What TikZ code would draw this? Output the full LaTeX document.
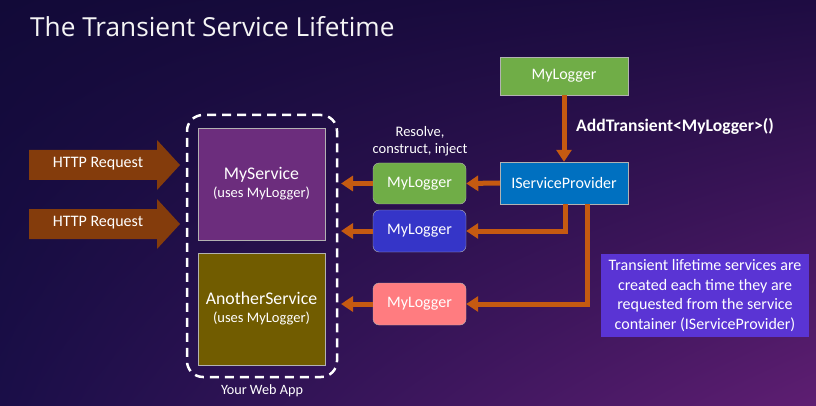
\documentclass[tikz,border=0pt]{standalone}
\usepackage{fontspec}
\setmainfont{Carlito}
\newfontfamily\titlefont{Open Sans}
\usetikzlibrary{arrows.meta,positioning,shadings}
\definecolor{bgA}{HTML}{120A38}
\definecolor{bgB}{HTML}{1E0C42}
\definecolor{bgC}{HTML}{1A0E48}
\definecolor{bgD}{HTML}{5E1E72}
\definecolor{arrowc}{HTML}{C55A11}
\definecolor{httpc}{HTML}{843C0C}
\definecolor{svcpurple}{HTML}{6C2D7D}
\definecolor{svcgold}{HTML}{715C00}
\definecolor{lgreen}{HTML}{70AD47}
\definecolor{lblue}{HTML}{0070C0}
\definecolor{lindigo}{HTML}{3535C8}
\definecolor{lpink}{HTML}{FF7C80}
\definecolor{notec}{HTML}{5A34D4}
\tikzset{
  box/.style={draw=gray!60, line width=0.4pt, text=white, font=\fontsize{16}{19}\selectfont, inner sep=0pt, align=center},
  rbox/.style={box, rounded corners=6pt},
  flow/.style={draw=arrowc, line width=5pt, -{Triangle[width=15pt,length=12pt]}},
  lbl/.style={text=white, align=center},
}
\begin{document}
\begin{tikzpicture}[x=1pt,y=-1pt]
\useasboundingbox (0,0) rectangle (816,406);
\shade[upper left=bgA, upper right=bgB, lower left=bgC, lower right=bgD] (0,0) rectangle (816,406);
% title
\node[anchor=base west, text=white!92!gray, inner sep=0pt, font=\titlefont\fontsize{26.2}{30}\selectfont] (title) at (30,37) {The Transient Service Lifetime};
% HTTP request arrows
\fill[httpc] (29,150) -- (157,150) -- (157,140) -- (180,165) -- (157,190) -- (157,180) -- (29,180) -- cycle;
\node[lbl, font=\fontsize{16}{19}\selectfont] (h1) at (98,164) {HTTP Request};
\fill[httpc] (29,209) -- (157,209) -- (157,199) -- (180,224) -- (157,249) -- (157,239) -- (29,239) -- cycle;
\node[lbl, font=\fontsize{16}{19}\selectfont] (h2) at (98,223) {HTTP Request};
% web app container
\node[draw=white, dash pattern=on 9pt off 6pt, line width=2.5pt, rounded corners=16pt, minimum width=150pt, minimum height=262pt, inner sep=0pt] (app) at (262,246) {};
\node[lbl, font=\fontsize{14.2}{16}\selectfont] (applbl) at (262,391) {Your Web App};
\node[box, fill=svcpurple, minimum width=127pt, minimum height=112pt] (ms) at (261.5,184) {{\fontsize{17.8}{20}\selectfont MyService}\\[-1pt]{\fontsize{14.5}{17}\selectfont (uses MyLogger)}};
\node[box, fill=svcgold, minimum width=127pt, minimum height=112pt] (as) at (261.5,309) {{\fontsize{17.8}{20}\selectfont AnotherService}\\[-1pt]{\fontsize{14.5}{17}\selectfont (uses MyLogger)}};
% right side
\node[box, fill=lgreen, minimum width=128pt, minimum height=38pt] (tml) at (564,76) {MyLogger};
\node[box, fill=lblue, minimum width=128pt, minimum height=42pt] (isp) at (564,183) {IServiceProvider};
\node[rbox, fill=lgreen, minimum width=93pt, minimum height=41pt] (gml) at (419.5,183.5) {MyLogger};
\node[rbox, fill=lindigo, minimum width=93pt, minimum height=42pt] (bml) at (419.5,231) {MyLogger};
\node[rbox, fill=lpink, minimum width=93pt, minimum height=42pt] (pml) at (419.5,304) {MyLogger};
\node[lbl, font=\fontsize{14.5}{17}\selectfont] (rci) at (420,141) {Resolve,\\construct, inject};
\node[anchor=west, text=white, font=\bfseries\fontsize{17.6}{20}\selectfont, inner sep=0pt] (addt) at (576,126) {AddTransient<MyLogger>()};
\node[fill=notec, text=white, align=center, minimum width=208pt, minimum height=83pt, inner sep=0pt, font=\fontsize{16}{19.6}\selectfont] (note) at (705,295.5) {Transient lifetime services are\\created each time they are\\requested from the service\\container (IServiceProvider)};
% connectors
\coordinate (t1) at (341,183.5);
\coordinate (t2) at (341,231);
\coordinate (t3) at (341,304);
\draw[flow] (tml.south) -- (isp.north);
\draw[flow] (isp.west) -- (gml.east);
\draw[flow] (gml.west) -- (t1);
\draw[flow] ([xshift=1pt]isp.south) |- (bml.east);
\draw[flow] (bml.west) -- (t2);
\draw[flow] ([xshift=23pt]isp.south) |- (pml.east);
\draw[flow] (pml.west) -- (t3);
\end{tikzpicture}
\end{document}
